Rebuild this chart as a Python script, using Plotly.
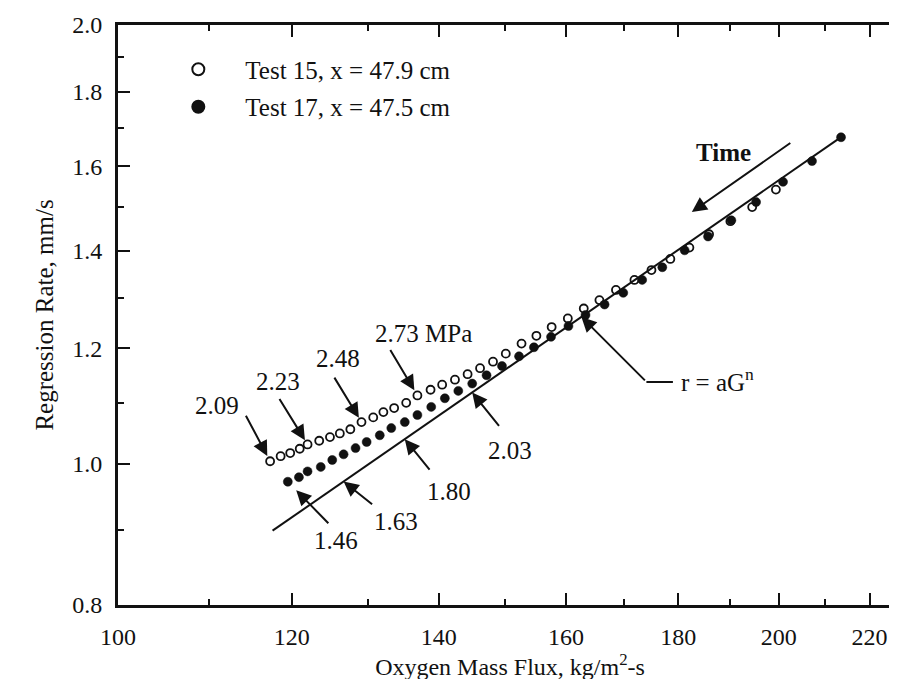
import numpy as np
import plotly.graph_objects as go

# ---------------- data ----------------
# Test 15, x = 47.9 cm  (open circles)
G15 = [117.3, 118.6, 119.8, 121.0, 122.0, 123.5, 124.9, 126.2, 127.6, 129.1,
       130.7, 132.1, 133.6, 135.3, 136.9, 138.8, 140.5, 142.4, 144.3, 146.2,
       148.2, 150.2, 152.7, 155.1, 157.6, 160.3, 163.0, 165.7, 168.6, 171.9,
       175.0, 178.5, 182.1, 185.9, 190.1, 194.5, 199.4]
R15 = [1.004, 1.012, 1.017, 1.024, 1.031, 1.037, 1.043, 1.049, 1.056, 1.068,
       1.076, 1.085, 1.092, 1.101, 1.114, 1.124, 1.133, 1.142, 1.152, 1.163,
       1.175, 1.190, 1.209, 1.224, 1.241, 1.258, 1.278, 1.295, 1.316, 1.337,
       1.358, 1.382, 1.407, 1.437, 1.467, 1.500, 1.542]

# Test 17, x = 47.5 cm  (filled circles)
G17 = [119.5, 120.9, 122.0, 123.7, 125.2, 126.7, 128.3, 129.8, 131.6, 133.2,
       135.1, 136.9, 138.9, 140.9, 142.9, 145.0, 147.2, 149.6, 152.3, 154.7,
       157.5, 160.4, 163.3, 166.6, 169.9, 173.3, 177.0, 181.2, 185.7, 190.3,
       195.3, 200.9, 207.1, 213.5]
R17 = [0.972, 0.979, 0.988, 0.995, 1.006, 1.015, 1.025, 1.035, 1.046, 1.058,
       1.068, 1.080, 1.094, 1.109, 1.122, 1.135, 1.150, 1.167, 1.185, 1.202,
       1.222, 1.243, 1.265, 1.286, 1.310, 1.337, 1.364, 1.401, 1.432, 1.469,
       1.512, 1.561, 1.613, 1.675]

# power-law fit r = a G^n
FIT_A = 0.006247
FIT_N = 1.0425
FIT_G = [117.6, 213.5]

# chamber pressure labels
OPEN_LABELS = ["2.09", "2.23", "2.48", "2.73 MPa"]
OPEN_IDX = [0, 4, 9, 14]
FILLED_LABELS = ["1.46", "1.63", "1.80", "2.03"]
FILLED_IDX = [0, 5, 10, 15]
R_LABEL_G = 162.6

# axis ticks
X_TICKS = [100, 120, 140, 160, 180, 200, 220]
X_MINOR = [110, 130, 150, 170, 190, 210, 230]
Y_TICKS = [0.8, 1.0, 1.2, 1.4, 1.6, 1.8, 2.0]
Y_MINOR = [0.9, 1.1, 1.3, 1.5, 1.7, 1.9]
X_RANGE = [100, 227.6]
Y_RANGE = [0.8, 2.0]

# ---------------- styling ----------------
FONT = "Liberation Serif, Times New Roman, serif"
BLACK = "#111111"


def fit(g):
    return FIT_A * np.asarray(g, dtype=float) ** FIT_N


fig = go.Figure()

fit_x = np.geomspace(FIT_G[0], FIT_G[1], 60)
fig.add_trace(go.Scatter(x=fit_x, y=fit(fit_x), mode="lines",
                         line=dict(color=BLACK, width=2), showlegend=False,
                         hoverinfo="skip"))

fig.add_trace(go.Scatter(x=G17, y=R17, mode="markers", name="Test 17, x = 47.5 cm",
                         marker=dict(symbol="circle", size=9, color=BLACK,
                                     line=dict(color=BLACK, width=0.5)),
                         legendrank=2, legendgroup="b"))
fig.add_trace(go.Scatter(x=G15, y=R15, mode="markers", name="Test 15, x = 47.9 cm",
                         marker=dict(symbol="circle-open", size=8, color=BLACK,
                                     line=dict(color=BLACK, width=1.8)),
                         legendrank=1, legendgroup="a"))

ann = []
arrow_style = dict(showarrow=True, arrowhead=2, arrowsize=1.5, arrowwidth=2,
                   arrowcolor=BLACK, text="", axref="pixel", ayref="pixel")
txt_style = dict(showarrow=False, xanchor="center", yanchor="middle",
                 font=dict(family=FONT, size=25, color=BLACK))

# open-circle labels: (ax, ay, standoff, text xshift, text yshift)
open_geo = [(-25, -47, 6, -53, 56), (-29, -47, 5, -30, 63),
            (-28, -46, 5, -23, 64), (-28, -47, 6, 6, 62)]
for lab, i, (ax, ay, so, tx, ty) in zip(OPEN_LABELS, OPEN_IDX, open_geo):
    xa, ya = np.log10(G15[i]), np.log10(R15[i])
    ann.append(dict(x=xa, y=ya, ax=ax, ay=ay, standoff=so, **arrow_style))
    ann.append(dict(x=xa, y=ya, text=lab, xshift=tx, yshift=ty, **txt_style))

# filled-circle labels
filled_geo = [(42, 43, 12, 48, -59), (30, 24, 0, 52, -40),
              (26, 32, 0, 44, -52), (28, 35, 0, 38, -58)]
for k, (lab, i, (ax, ay, so, tx, ty)) in enumerate(zip(FILLED_LABELS, FILLED_IDX, filled_geo)):
    if k == 0:
        xa, ya = np.log10(G17[i]), np.log10(R17[i])
    else:
        xa, ya = np.log10(G17[i]), np.log10(float(fit(G17[i])))
    ann.append(dict(x=xa, y=ya, ax=ax, ay=ay, standoff=so, **arrow_style))
    ann.append(dict(x=xa, y=ya, text=lab, xshift=tx, yshift=ty, **txt_style))

# r = aG^n callout
xr, yr = np.log10(R_LABEL_G), np.log10(float(fit(R_LABEL_G)))
ann.append(dict(x=xr, y=yr, ax=65, ay=65, standoff=0, **arrow_style))
ann.append(dict(x=xr, y=yr, xshift=65, yshift=-65, ax=28, ay=0, showarrow=True,
                arrowhead=0, arrowwidth=2, arrowcolor=BLACK, text="",
                axref="pixel", ayref="pixel"))
ann.append(dict(x=xr, y=yr, text="r = aG<sup>n</sup>", xshift=136, yshift=-63,
                **txt_style))

# Time arrow (paper coordinates)
ann.append(dict(x=0.7319, y=0.6776, xref="paper", yref="paper", ax=100, ay=-70,
                standoff=0, **arrow_style))
ann.append(dict(x=0.7319, y=0.6776, xref="paper", yref="paper", text="<b>Time</b>",
                xshift=32, yshift=59, **txt_style))

axis_common = dict(type="log", showline=True, linecolor=BLACK, linewidth=2.8,
                   mirror="ticks", ticks="inside", ticklen=12, tickwidth=1.8,
                   tickcolor=BLACK, showgrid=False, zeroline=False,
                   tickfont=dict(family=FONT, size=24, color=BLACK),
                   ticklabelstandoff=8)

fig.update_layout(
    width=897, height=679,
    margin=dict(l=110, r=0, t=17, b=82),
    paper_bgcolor="white", plot_bgcolor="white",
    font=dict(family=FONT, size=24, color=BLACK),
    xaxis=dict(range=[np.log10(X_RANGE[0]), np.log10(X_RANGE[1])],
               tickvals=X_TICKS, ticktext=[str(v) for v in X_TICKS],
               minor=dict(tickvals=X_MINOR, ticks="inside", ticklen=6,
                          tickwidth=1.5, tickcolor=BLACK),
               title=dict(text="Oxygen Mass Flux, kg/m<sup>2</sup>-s",
                          font=dict(family=FONT, size=24, color=BLACK), standoff=3),
               **axis_common),
    yaxis=dict(range=[np.log10(Y_RANGE[0]), np.log10(Y_RANGE[1])],
               tickvals=Y_TICKS, ticktext=[f"{v:.1f}" for v in Y_TICKS],
               minor=dict(tickvals=Y_MINOR, ticks="inside", ticklen=6,
                          tickwidth=1.5, tickcolor=BLACK),
               title=dict(text="Regression Rate, mm/s",
                          font=dict(family=FONT, size=25, color=BLACK), standoff=12),
               **axis_common),
    legend=dict(x=0.0425, y=0.963, xanchor="left", yanchor="top",
                bgcolor="rgba(0,0,0,0)", itemwidth=84, tracegroupgap=2,
                font=dict(family=FONT, size=25, color=BLACK), itemsizing="constant"),
    annotations=ann,
    showlegend=True,
)

fig.write_html("out.html")
